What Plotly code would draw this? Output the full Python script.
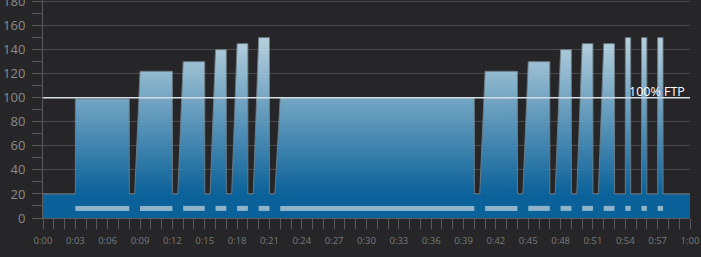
import plotly.graph_objects as go

# ---- data (minutes, % FTP) ----
rest_power = 20
interval_start = [3, 9, 13, 16, 18, 20, 22, 41, 45, 48, 50, 52, 54, 55.5, 57]
interval_end = [8, 12, 15, 17, 19, 21, 40, 44, 47, 49, 51, 53, 54.5, 56, 57.5]
interval_power = [99, 122, 130, 140, 145, 150, 100, 122, 130, 140, 145, 145, 150, 150, 150]
ramp_minutes = [0, 0.5, 0.5, 0.5, 0.5, 0.5, 0.5, 0.5, 0.5, 0.5, 0.5, 0.5, 0, 0, 0]
total_minutes = 60
ftp_level = 100
x_tick_vals = [0, 3, 6, 9, 12, 15, 18, 21, 24, 27, 30, 33, 36, 39, 42, 45, 48, 51, 54, 57, 60]
x_tick_text = ["0:00", "0:03", "0:06", "0:09", "0:12", "0:15", "0:18", "0:21", "0:24", "0:27",
               "0:30", "0:33", "0:36", "0:39", "0:42", "0:45", "0:48", "0:51", "0:54", "0:57", "1:00"]
bar_level = 8

# ---- build profile polyline ----
xs, ys = [0], [rest_power]
for s, e, p, r in zip(interval_start, interval_end, interval_power, ramp_minutes):
    xs += [s - r, s, e, e]
    ys += [rest_power, p, p, rest_power]
xs.append(total_minutes)
ys.append(rest_power)

# segment bars
bx, by = [], []
for s, e in zip(interval_start, interval_end):
    bx += [s, e, None]
    by += [bar_level, bar_level, None]

BG = "#262628"
fig = go.Figure()
fig.add_trace(go.Scatter(
    x=xs, y=ys, mode="lines", fill="tozeroy",
    line=dict(color="rgba(110,125,135,0.9)", width=1),
    fillgradient=dict(
        type="vertical", start=0, stop=150,
        colorscale=[[0, "rgba(8,104,166,0.9)"], [20 / 150, "rgba(8,104,166,0.9)"],
                    [1, "rgba(200,228,242,0.9)"]],
    ),
    hoverinfo="skip", showlegend=False,
))
fig.add_trace(go.Scatter(
    x=bx, y=by, mode="lines", line=dict(color="#8fb4c9", width=5),
    hoverinfo="skip", showlegend=False,
))
fig.add_trace(go.Scatter(
    x=[0, total_minutes], y=[ftp_level, ftp_level], mode="lines",
    line=dict(color="#d4dde3", width=1.3), hoverinfo="skip", showlegend=False,
))
fig.add_annotation(
    x=total_minutes, y=ftp_level, text="100% FTP", showarrow=False,
    xanchor="right", yanchor="bottom", xshift=-3, yshift=-4,
    font=dict(family="Open Sans", size=12.5, color="#ffffff"),
)

fig.update_layout(
    width=701, height=257,
    margin=dict(l=43, r=11, t=0, b=39, autoexpand=False),
    paper_bgcolor=BG, plot_bgcolor=BG,
    font=dict(family="Open Sans", color="#808080"),
    xaxis=dict(
        range=[0, total_minutes], tickvals=x_tick_vals, ticktext=x_tick_text,
        showgrid=False, zeroline=False, showline=True, linecolor="#5a5a5a", linewidth=1,
        ticks="outside", ticklen=10, tickcolor="#5a5a5a", tickwidth=1,
        tickfont=dict(size=9.5, color="#7a7a7a"), ticklabelstandoff=4, automargin=False,
        minor=dict(dtick=1, tick0=0, ticks="outside", ticklen=10, tickcolor="#5a5a5a", showgrid=False),
    ),
    yaxis=dict(
        range=[0, 181.3], dtick=20, tick0=0,
        showgrid=True, gridcolor="#4a4a4a", gridwidth=1,
        zeroline=False, showline=True, linecolor="#5a5a5a", linewidth=1,
        ticks="outside", ticklen=10, tickcolor="#5a5a5a",
        tickfont=dict(size=13, color="#8a8a8a"), ticklabelstandoff=4,
        ticklabeloverflow="allow", automargin=False,
        minor=dict(dtick=10, tick0=0, ticks="outside", ticklen=10, tickcolor="#5a5a5a", showgrid=False),
    ),
)
fig.write_html("out.html")
